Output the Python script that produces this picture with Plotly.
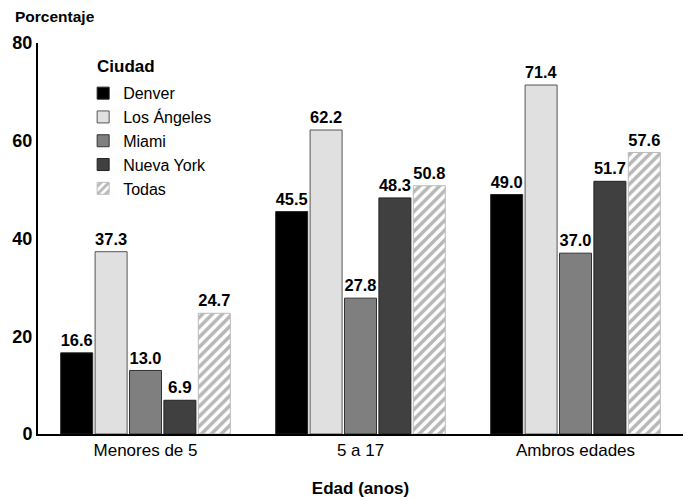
import plotly.graph_objects as go

categories = ["Menores de 5", "5 a 17", "Ambros edades"]
cities = ["Denver", "Los Ángeles", "Miami", "Nueva York", "Todas"]
denver = [16.6, 45.5, 49.0]
los_angeles = [37.3, 62.2, 71.4]
miami = [13.0, 27.8, 37.0]
nueva_york = [6.9, 48.3, 51.7]
todas = [24.7, 50.8, 57.6]
y_ticks = [0, 20, 40, 60, 80]

series = [denver, los_angeles, miami, nueva_york, todas]
fills = ["#000000", "#e0e0e0", "#7f7f7f", "#404040", "#ffffff"]
lines = ["#222222", "#555555", "#333333", "#222222", "#bbbbbb"]

FONT = "Liberation Sans, Arial, sans-serif"

fig = go.Figure()
for name, vals, fc, lc in zip(cities, series, fills, lines):
    marker = dict(color=fc, line=dict(color=lc, width=1))
    if name == "Todas":
        marker["pattern"] = dict(shape="/", fgcolor="#707070", bgcolor="#ffffff",
                                 size=7, solidity=0.5)
    fig.add_trace(go.Bar(
        name=name, x=categories, y=vals, marker=marker,
        text=[f"{v:.1f}" for v in vals], textposition="outside",
        textfont=dict(family=FONT, size=17, color="#000000"),
        texttemplate="<b>%{text}</b>", cliponaxis=False,
    ))

fig.update_layout(
    width=686, height=500,
    margin=dict(l=38, r=3, t=43, b=66),
    paper_bgcolor="white", plot_bgcolor="white",
    barmode="group", bargap=0.2, bargroupgap=0.07,
    font=dict(family=FONT, size=16, color="#000000"),
    showlegend=True,
    legend=dict(
        x=0.07, y=0.915, xanchor="left", yanchor="top",
        font=dict(family=FONT, size=16), bgcolor="rgba(0,0,0,0)",
        tracegroupgap=0,
    ),
    xaxis=dict(
        showline=True, linecolor="#000000", linewidth=2, automargin=False,
        ticks="", tickfont=dict(family=FONT, size=17),
        title=dict(text="<b>Edad (anos)</b>", font=dict(family=FONT, size=17), standoff=23),
    ),
    yaxis=dict(
        range=[0, 80], tickvals=y_ticks, ticktext=[f"<b>{t}</b>" for t in y_ticks],
        showline=True, linecolor="#000000", linewidth=2, showgrid=False,
        zeroline=False, ticks="", tickfont=dict(family=FONT, size=18), automargin=False,
    ),
    annotations=[
        dict(text="<b>Porcentaje</b>", xref="paper", yref="paper", x=-0.038, y=1.069,
             xanchor="left", yanchor="middle", showarrow=False,
             font=dict(family=FONT, size=15.5)),
        dict(text="<b>Ciudad</b>", xref="paper", yref="paper", x=0.088, y=0.94,
             xanchor="left", yanchor="middle", showarrow=False,
             font=dict(family=FONT, size=17)),
    ],
)

fig.write_html("out.html", config={"displayModeBar": False},
               post_script="document.body.style.margin='0';document.body.style.padding='0';")
